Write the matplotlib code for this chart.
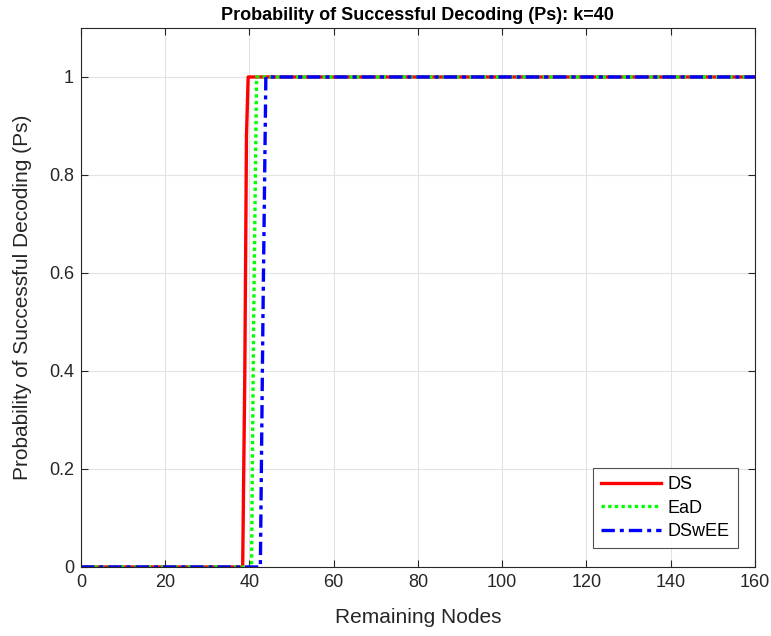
import numpy as np
import matplotlib.pyplot as plt
from matplotlib.ticker import FuncFormatter

plt.rcParams['font.family'] = ['Liberation Sans', 'DejaVu Sans']

X_MAX = 160

# Curves: 0 before the first point, 1 after the last; transition
ds_x = [0, 38.4, 38.9, 39.3, 39.7, X_MAX]
ds_y = [0, 0.0, 0.39, 0.88, 1.0, 1.0]
ead_x = [0, 40.5, 41.0, 41.7, X_MAX]
ead_y = [0, 0.0, 0.5, 1.0, 1.0]
dswee_x = [0, 42.6, 43.2, 43.9, X_MAX]
dswee_y = [0, 0.0, 0.5, 1.0, 1.0]

fig = plt.figure(figsize=(7.71, 6.36), dpi=100)
ax = fig.add_axes([0.105, 0.1085, 0.874, 0.8475])

ax.plot(ds_x, ds_y, color='#ff0000', lw=2.4, label='DS')
ax.plot(ead_x, ead_y, color='#00ff00', lw=2.4, ls=(0, (1, 1)), label='EaD')
ax.plot(dswee_x, dswee_y, color='#0000ff', lw=2.4, ls=(0, (4, 1.5, 1.2, 1.5)), label='DSwEE')

ax.set_xlim(0, X_MAX)
ax.set_ylim(0, 1.1)
ax.set_xticks(np.arange(0, 161, 20))
ax.set_yticks([0, 0.2, 0.4, 0.6, 0.8, 1.0])
ax.yaxis.set_major_formatter(FuncFormatter(lambda v, p: f'{v:g}'))
ax.grid(True, color='#e3e3e3', lw=0.8)
ax.set_axisbelow(True)
ax.tick_params(direction='in', top=True, right=True, labelsize=13, colors='#262626', length=5, pad=5)
for s in ax.spines.values():
    s.set_color('#262626')
    s.set_linewidth(0.8)

ax.set_xlabel('Remaining Nodes', fontsize=15, color='#262626', labelpad=12)
ax.set_ylabel('Probability of Successful Decoding (Ps)', fontsize=15, color='#262626', labelpad=12)
ax.set_title('Probability of Successful Decoding (Ps): k=40', fontsize=13, fontweight='bold', pad=6)

leg = ax.legend(loc='lower right', bbox_to_anchor=(0.975, 0.035), borderaxespad=0, fontsize=13,
                frameon=True, fancybox=False, edgecolor='#262626', handlelength=3.3, borderpad=0.45,
                labelspacing=0.35, handletextpad=0.4)
leg.get_frame().set_linewidth(0.8)

fig.savefig('out.png', dpi=100)
